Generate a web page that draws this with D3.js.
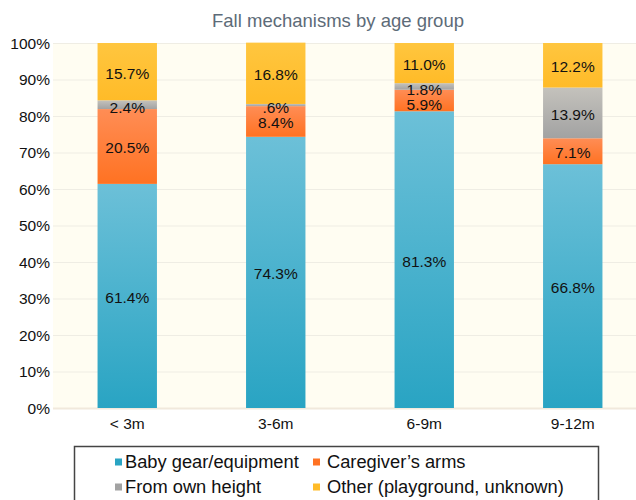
<!DOCTYPE html>
<html><head><meta charset="utf-8">
<script src="https://cdn.jsdelivr.net/npm/d3@7"></script>
<style>body{margin:0;background:#fff}svg{display:block}text{font-family:"Liberation Sans",Arial,Helvetica,sans-serif}</style>
</head><body><svg id="c" width="636" height="500"></svg>
<script>
const categories = ["< 3m", "3-6m", "6-9m", "9-12m"];
const seriesNames = ["Baby gear/equipment", "Caregiver\u2019s arms", "From own height", "Other (playground, unknown)"];
const babyGear = [61.4, 74.3, 81.3, 66.8];
const caregiverArms = [20.5, 8.4, 5.9, 7.1];
const ownHeight = [2.4, 0.6, 1.8, 13.9];
const other = [15.7, 16.8, 11.0, 12.2];
const labelText = [
  ["61.4%", "74.3%", "81.3%", "66.8%"],
  ["20.5%", "8.4%", "5.9%", "7.1%"],
  ["2.4%", ".6%", "1.8%", "13.9%"],
  ["15.7%", "16.8%", "11.0%", "12.2%"]
];
const yTicks = [0,10,20,30,40,50,60,70,80,90,100];

const colors = [["#6cc0d8","#29a4c3"],["#ff8d55","#ff7222"],["#c4c2bc","#a2a2a2"],["#ffc63f","#ffbb28"]];

const svg = d3.select("#c");
const x = d3.scaleBand().domain(categories).range([53, 647]).paddingInner(0.6).paddingOuter(0.3);
const y = d3.scaleLinear().domain([0,100]).range([408, 43]);

const defs = svg.append("defs");
colors.forEach((c,i)=>{
  const g = defs.append("linearGradient").attr("id","g"+i).attr("x1",0).attr("y1",0).attr("x2",0).attr("y2",1);
  g.append("stop").attr("offset","0%").attr("stop-color",c[0]);
  g.append("stop").attr("offset","100%").attr("stop-color",c[1]);
});

// title
svg.append("text").attr("x",338).attr("y",27).attr("text-anchor","middle")
  .attr("font-size",18.5).attr("fill","#5d6b78").text("Fall mechanisms by age group");

// plot background
svg.append("rect").attr("x",53).attr("y",43).attr("width",636-53).attr("height",365).attr("fill","#fffdf2");

// grid
svg.append("g").selectAll("line").data(yTicks).join("line")
  .attr("x1",53).attr("x2",636).attr("y1",d=>y(d)+0.5).attr("y2",d=>y(d)+0.5)
  .attr("stroke",d=>d===0?"#f1e9dc":"#efede4").attr("stroke-width",d=>d===0?2:1);

// y axis
const yAxis = d3.axisLeft(y).tickValues(yTicks).tickFormat(d=>d+"%").tickSize(0).tickPadding(3);
const ya = svg.append("g").attr("transform","translate(53,0)").call(yAxis);
ya.select(".domain").remove();
ya.selectAll("text").attr("font-size",15.5).attr("fill","#111").attr("font-family","'Liberation Sans',Arial,sans-serif").attr("dy","0.35em");

// x axis
const xAxis = d3.axisBottom(x).tickSize(0).tickPadding(10);
const xa = svg.append("g").attr("transform","translate(0,408)").call(xAxis);
xa.select(".domain").remove();
xa.selectAll("text").attr("font-size",15.5).attr("fill","#111").attr("font-family","'Liberation Sans',Arial,sans-serif");

// stacked bars
const table = categories.map((c,i)=>({cat:c, s0:babyGear[i], s1:caregiverArms[i], s2:ownHeight[i], s3:other[i]}));
const stack = d3.stack().keys(["s0","s1","s2","s3"])(table);
stack.forEach((layer,si)=>{
  svg.append("g").selectAll("rect").data(layer).join("rect")
    .attr("x",d=>x(d.data.cat)).attr("width",x.bandwidth())
    .attr("y",d=>y(d[1])).attr("height",d=>y(d[0])-y(d[1]))
    .attr("fill","url(#g"+si+")");
});
stack.forEach((layer,si)=>{
  svg.append("g").selectAll("text").data(layer).join("text")
    .attr("x",d=>x(d.data.cat)+x.bandwidth()/2)
    .attr("y",d=>{
      const h = y(d[0])-y(d[1]);
      let cy = (y(d[0])+y(d[1]))/2 + 1.5;
      if (si===1 && h < 25) cy += 2.5;
      if (si===2 && h < 10) cy += 1.5;
      return cy;
    })
    .attr("dy","0.35em").attr("text-anchor","middle")
    .attr("font-size",15.5).attr("fill","#111")
    .text((d,i)=>labelText[si][i]);
});

// legend
svg.append("rect").attr("x",74.5).attr("y",446.5).attr("width",524).attr("height",60)
  .attr("fill","#fff").attr("stroke","#444").attr("stroke-width",1.5);
const legPos = [[115,462],[313,462],[115,487],[313,487]];
seriesNames.forEach((n,i)=>{
  const g = svg.append("g").attr("transform",`translate(${legPos[i][0]},${legPos[i][1]})`);
  g.append("rect").attr("x",0).attr("y",-3.5).attr("width",7).attr("height",7).attr("fill",colors[i][1]);
  g.append("text").attr("x",i%2===0?10:14).attr("y",0).attr("dy","0.35em").attr("font-size",18.3).attr("fill","#111").text(n);
});
</script></body></html>
